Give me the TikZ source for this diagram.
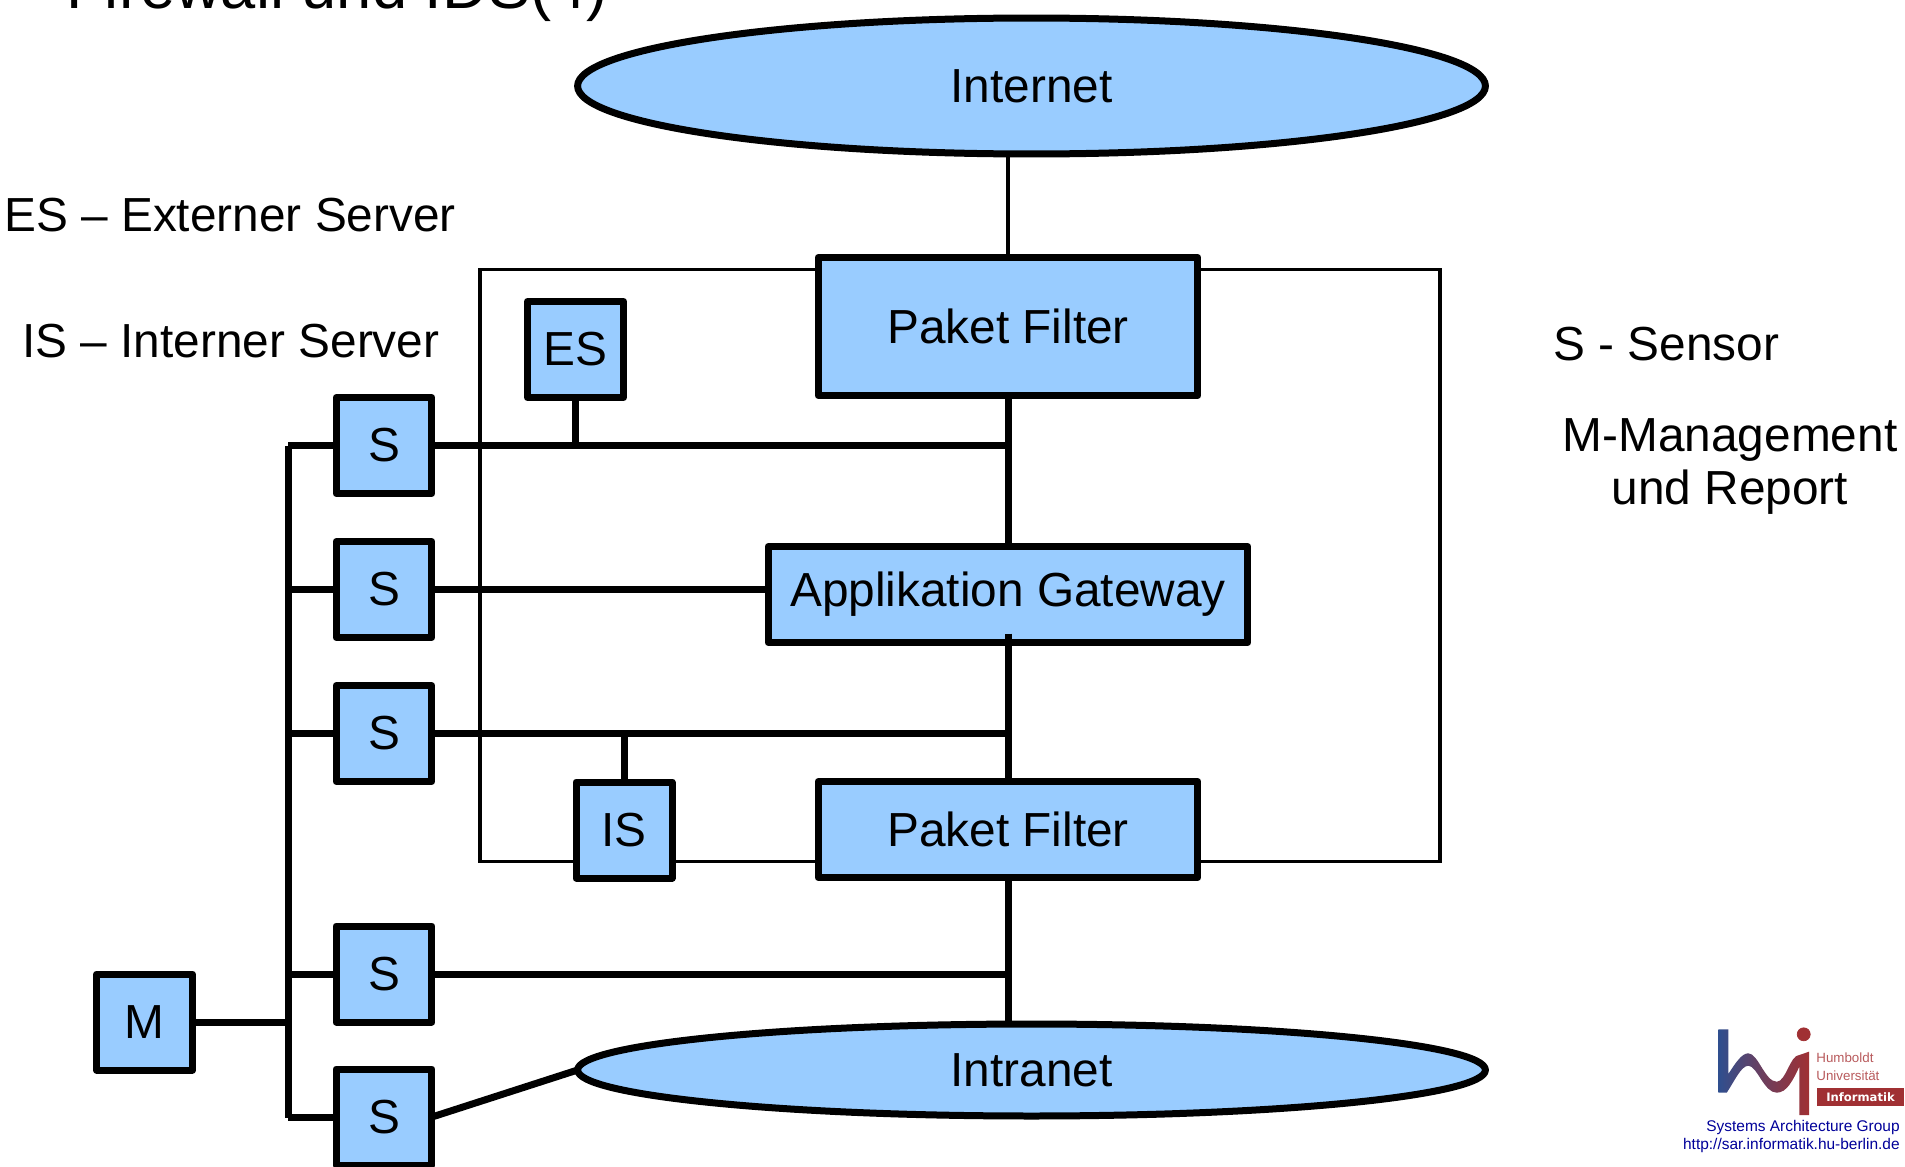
\documentclass[tikz,border=0pt]{standalone}
\usepackage{fontspec}
\setmainfont{Liberation Sans}
\usetikzlibrary{shapes.geometric}
\definecolor{boxblue}{HTML}{99CCFF}
\definecolor{logoblue}{HTML}{2F4F8F}
\definecolor{logored}{HTML}{A03033}
\definecolor{logotext}{HTML}{B85A5C}
\definecolor{linkblue}{HTML}{000099}
\tikzset{
    bigfont/.style={font=\fontsize{27.2}{32}\selectfont},
    box/.style={draw=black, fill=boxblue, line width=0.14cm, line join=round, inner sep=0pt, outer sep=0pt, bigfont},
    cloud/.style={box, ellipse},
    wire/.style={line width=0.14cm},
    thinwire/.style={line width=0.07cm},
    legend/.style={inner sep=0pt, bigfont}
}
\begin{document}
\begin{tikzpicture}[x=0.02cm, y=-0.02cm]
        \useasboundingbox (0,0) rectangle (1905,1166);
        \node[inner sep=0pt, anchor=base west, font=\fontsize{36}{40}\selectfont] (title) at (66,9) {Firewall und IDS(4)};
        \node[draw=black, line width=0.07cm, minimum width=19.2cm, minimum height=11.84cm, inner sep=0pt] (frame) at (960,565.5) {};
        % servers
        \node[cloud, minimum width=18.16cm, minimum height=2.72cm] (internet) at (1031.5,86) {Internet};
        \node[cloud, minimum width=18.16cm, minimum height=1.84cm] (intranet) at (1031.5,1070) {Intranet};
        \node[box, minimum width=7.6cm, minimum height=2.76cm] (filterTop) at (1008,326.5) {Paket Filter};
        \node[box, minimum width=9.6cm, minimum height=1.92cm] (gateway) at (1008,594.5) {Applikation Gateway};
        \node[box, minimum width=7.6cm, minimum height=1.92cm] (filterBottom) at (1008,829.5) {Paket Filter};
        \node[box, minimum width=1.92cm, minimum height=1.92cm] (es) at (575.5,349.5) {ES};
        \node[box, minimum width=1.92cm, minimum height=1.92cm] (is) at (624,830) {IS};
        \node[box, minimum width=1.92cm, minimum height=1.92cm] (m) at (144.5,1022) {M};
        \foreach \name/\y in {sa/445.5,sb/589.5,sc/733.5,sd/974,se/1117}
            \node[box, minimum width=1.92cm, minimum height=1.92cm] (\name) at (384,\y) {S};
        % bus on the left
        \coordinate (busTop) at (288,445.5);
        \coordinate (busBottom) at (288,1118);
        \draw[wire] (busTop) -- (busBottom);
        \foreach \name in {sa,sb,sc,sd,se}
            \draw[wire] (\name.west) -- (\name.west -| busTop);
        \draw[wire] (m.east) -- (m.east -| busTop);
        % main line
        \draw[thinwire] (filterTop.north) -- (filterTop.north |- internet.south);
        \draw[wire] (filterTop.south) -- (gateway.north);
        \draw[wire] ([yshift=0.18cm]gateway.south) -- (filterBottom.north);
        \draw[wire] (filterBottom.south) -- (filterBottom.south |- intranet.north);
        \draw[wire] (sa.east) -- (sa.east -| filterTop.south);
        \draw[wire] (sb.east) -- (sb.east -| gateway.west);
        \draw[wire] (sc.east) -- (sc.east -| gateway.south);
        \draw[wire] (sd.east) -- (sd.east -| gateway.south);
        \draw[wire] (se.east) -- (intranet.west);
        \draw[wire] (es.south) -- (es.south |- sa.east);
        \draw[wire] (is.north) -- (is.north |- sc.east);
        % legend
        \node[legend, anchor=west] (esText) at (4,215) {ES – Externer Server};
        \node[legend, anchor=west] (isText) at (22,341) {IS – Interner Server};
        \node[legend, anchor=west] (sText) at (1553,344) {S - Sensor};
        \node[legend] (mText) at (1730,440) {M-Management};
        \node[legend] (reportText) at (1730,492) {und Report};
        % logo
        \shade[left color=logoblue, right color=logored, middle color=logored!55!logoblue]
            (1718.3,1029.3) -- (1728.3,1029.3) -- (1728.3,1074)
            .. controls (1736,1062) and (1742,1053.3) .. (1748.3,1053.3)
            .. controls (1758,1053.3) and (1765,1081.7) .. (1776.7,1081.7)
            .. controls (1786,1081.7) and (1790,1055) .. (1799.3,1055)
            -- (1809,1051.7) -- (1809,1115) -- (1799.3,1115) -- (1799.3,1066.7)
            .. controls (1793,1080) and (1787,1092.7) .. (1776.7,1092.7)
            .. controls (1764,1092.7) and (1757,1065.7) .. (1748.3,1065.7)
            .. controls (1741,1065.7) and (1734,1082) .. (1726.7,1092.7)
            -- (1718.3,1092.7) -- cycle;
        \filldraw[logored] (1803.7,1034.3) circle (6.5);
        \node[anchor=west, inner sep=0pt, text=logotext, font=\fontsize{7.6}{9}\selectfont] (humboldt) at (1816,1057.7) {Humboldt};
        \node[anchor=west, inner sep=0pt, text=logotext, font=\fontsize{7.6}{9}\selectfont] (uni) at (1816,1076) {Universität};
        \node[fill=logored, text=white, minimum width=1.73cm, minimum height=0.35cm, inner sep=0pt, font=\fontfamily{DejaVu Sans}\fontspec{DejaVu Sans Bold}\fontsize{6.6}{8}\selectfont] (informatik) at (1860.5,1097) {Informatik};
        \node[anchor=east, inner sep=0pt, text=linkblue, font=\fontsize{8.8}{10}\selectfont] (group) at (1900,1127) {Systems Architecture Group};
        \node[anchor=east, inner sep=0pt, text=linkblue, font=\fontsize{8.8}{10}\selectfont] (url) at (1900,1145) {http://sar.informatik.hu-berlin.de};
    \end{tikzpicture}
\end{document}
